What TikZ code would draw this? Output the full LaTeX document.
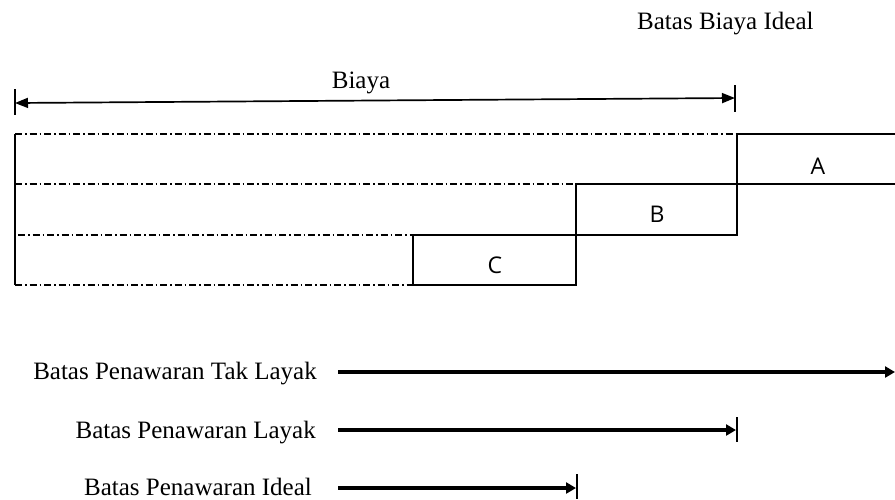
\documentclass[tikz,border=0pt]{standalone}
\usepackage{fontspec}
\setmainfont{Liberation Serif}
\newfontfamily\sansw{Open Sans}
\usetikzlibrary{arrows.meta}
\begin{document}
\begin{tikzpicture}[x=1pt,y=-1pt,
  lbl/.style={inner sep=0pt,font=\fontsize{25}{30}\selectfont},
  boxlbl/.style={inner sep=0pt,anchor=base,font=\sansw\fontsize{23}{28}\selectfont},
  thin/.style={line width=1.7pt},
  dd/.style={line width=1.3pt,dash pattern=on 7pt off 3pt on 1.5pt off 3pt},
  thick/.style={line width=3.2pt,-{Triangle[length=10pt,width=11pt]}},
  tick/.style={line width=1.7pt}]
\useasboundingbox (0,0) rectangle (895,499);
% top labels
\node[lbl,anchor=base west] (bbi) at (637,29) {Batas Biaya Ideal};
\node[lbl,anchor=base] (biaya) at (361,88) {Biaya};
% Biaya dimension
\coordinate (bl) at (15,103);
\coordinate (br) at (735,98);
\draw[thin,{Triangle[length=13pt,width=10pt]}-{Triangle[length=13pt,width=10pt]}] (bl) -- (br);
\draw[tick] (15,89) -- (15,115);
\draw[tick] (735,85) -- (735,112);
% left vertical
\draw[thin] (15,134) -- (15,285);
% dash-dot lines
\draw[dd] (15,134) -- (737,134);
\draw[dd] (15,184) -- (576,184);
\draw[dd] (18,235) -- (413,235);
\draw[dd] (15,285) -- (413,285);
% boxes
\draw[thin] (895,134) -- (737,134) -- (737,235) -- (413,235) -- (413,285) -- (576,285) -- (576,184) -- (895,184);
\node[boxlbl] (A) at (818,174) {A};
\node[boxlbl] (B) at (657,222) {B};
\node[boxlbl] (C) at (495,273) {C};
% bottom arrows
\node[lbl,anchor=base east] (t1) at (317,379) {Batas Penawaran Tak Layak};
\node[lbl,anchor=base east] (t2) at (316,438) {Batas Penawaran Layak};
\node[lbl,anchor=base east] (t3) at (312,495) {Batas Penawaran Ideal};
\coordinate (a1s) at (338,372);
\coordinate (a1e) at (895,372);
\coordinate (a2s) at (338,430);
\coordinate (a2e) at (736,430);
\coordinate (a3s) at (338,488);
\coordinate (a3e) at (576,488);
\draw[thick] (a1s) -- (a1e);
\draw[thick] (a2s) -- (a2e);
\draw[thick] (a3s) -- (a3e);
\draw[tick] (737,417) -- (737,442);
\draw[tick] (577,474) -- (577,499);
\end{tikzpicture}
\end{document}
